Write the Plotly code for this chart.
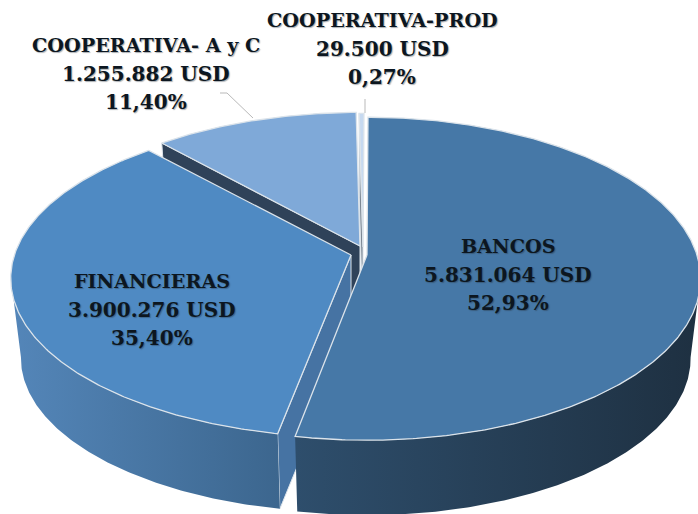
import numpy as np
import plotly.graph_objects as go

# --- data ---
categories = ["BANCOS", "FINANCIERAS", "COOPERATIVA- A y C", "COOPERATIVA-PROD"]
usd_values = [5831064, 3900276, 1255882, 29500]
usd_labels = ["5.831.064 USD", "3.900.276 USD", "1.255.882 USD", "29.500 USD"]
pct_labels = ["52,93%", "35,40%", "11,40%", "0,27%"]

# --- style / layout ---
W, H = 698, 514
R, A, K = 330.0, 158.0, 0.147        # disk radii and perspective strength
DROP, BOTTOM_SCALE = 80.5, 0.97      # thickness of the disk
START_DEG = 0.2
APEX = [(367, 255), (351, 255), (360, 246), (363, 247)]
RX_SCALE = [1.0, 1.02, 1.0, 1.0]
RY_SCALE = [1.0, 0.985, 0.97, 0.97]
TOP_COL = ["#4678a7", "#4f8ac3", "#7fa9d8", "#c6d9f0"]
WALL_COL = ["#2b4a68", "#4673a3", "#2f4259", "#7d8894"]
RIM = "#dbe3ea"
TEXT = "#0c1620"
FONT = "DejaVu Serif"
LABEL_POS = [(508, 246), (152, 281), (146, 45), (382, 20)]
LINE_GAP = 28.5
NAME_SIZE = 19.2
NUM_SIZE = 20


def project(i, deg, bottom=False):
    ap = APEX[i]
    t = np.radians(np.asarray(deg, dtype=float))
    X, Y = np.sin(t), np.cos(t)
    s = 1.0 / (1.0 + K * Y)
    q = BOTTOM_SCALE if bottom else 1.0
    return (ap[0] + R * RX_SCALE[i] * X * s * q,
            ap[1] - A * RY_SCALE[i] * Y * s * q + (DROP if bottom else 0.0))


def poly(xs, ys, color=None, line=None, width=1.0, grad=None):
    tr = dict(x=list(xs) + [xs[0]], y=list(ys) + [ys[0]], mode="lines", fill="toself",
              hoverinfo="skip", showlegend=False,
              line=dict(color=line or "rgba(0,0,0,0)", width=width if line else 0))
    if grad:
        tr["fillgradient"] = dict(type="horizontal", colorscale=[[0, grad[0]], [1, grad[1]]])
    else:
        tr["fillcolor"] = color
    fig.add_trace(go.Scatter(**tr))


def arc(a, b):
    return np.linspace(a, b, max(int(abs(b - a)) * 2, 4))


fig = go.Figure()
frac = np.array(usd_values, dtype=float) / np.sum(usd_values)
edges = START_DEG + np.concatenate([[0], np.cumsum(frac)]) * 360
spans = list(zip(edges[:-1], edges[1:]))


def wall(i, deg, color):
    ax, ay = APEX[i]
    x1, y1 = project(i, deg)
    x2, y2 = project(i, deg, bottom=True)
    poly([ax, x1, x2, ax], [ay, y1, y2, ay + DROP], color, line=RIM, width=1)


def top(i):
    a, b = spans[i]
    ax, ay = APEX[i]
    px, py = project(i, arc(a, b))
    poly([ax, *px], [ay, *py], TOP_COL[i], line=RIM, width=1.3)


def side(i, a, b, grad):
    tx, ty = project(i, arc(a, b))
    bx, by = project(i, arc(a, b), bottom=True)
    poly([*tx, *bx[::-1]], [*ty, *by[::-1]], grad=grad)


# painter's order, back to front
wall(3, spans[3][0], WALL_COL[3])
top(3)
wall(2, spans[2][0], WALL_COL[2])
top(2)
wall(1, spans[1][0], WALL_COL[1])
side(1, spans[1][0], 262, ("#5486b9", "#3c668e"))
top(1)
side(0, 98, spans[0][1], ("#2e4e6c", "#1e3041"))
top(0)

# leader lines
fig.add_trace(go.Scatter(x=[220, 227, 253], y=[93, 93, 118], mode="lines", hoverinfo="skip",
                         showlegend=False, line=dict(color="#b9b9b9", width=1)))
fig.add_trace(go.Scatter(x=[365, 365], y=[99, 113], mode="lines", hoverinfo="skip",
                         showlegend=False, line=dict(color="#b9b9b9", width=1)))

for i, name in enumerate(categories):
    rows = [(name, NAME_SIZE), (usd_labels[i], NUM_SIZE), (pct_labels[i], NUM_SIZE)]
    for j, (txt, size) in enumerate(rows):
        fig.add_annotation(
            x=LABEL_POS[i][0], y=LABEL_POS[i][1] + j * LINE_GAP, xref="x", yref="y",
            showarrow=False, text=txt, align="center",
            font=dict(family=FONT, size=size, color=TEXT, weight="bold",
                      shadow="1px 1px 1px rgba(40,50,60,0.4)"),
        )

fig.update_layout(
    width=W, height=H, autosize=False,
    margin=dict(l=0, r=0, t=0, b=0),
    paper_bgcolor="#ffffff", plot_bgcolor="#ffffff",
    xaxis=dict(range=[0, W], visible=False, fixedrange=True),
    yaxis=dict(range=[H, 0], visible=False, fixedrange=True),
    showlegend=False,
)
fig.write_html("out.html", config=dict(displayModeBar=False),
               post_script="document.body.style.margin='0';document.body.style.overflow='hidden';")
